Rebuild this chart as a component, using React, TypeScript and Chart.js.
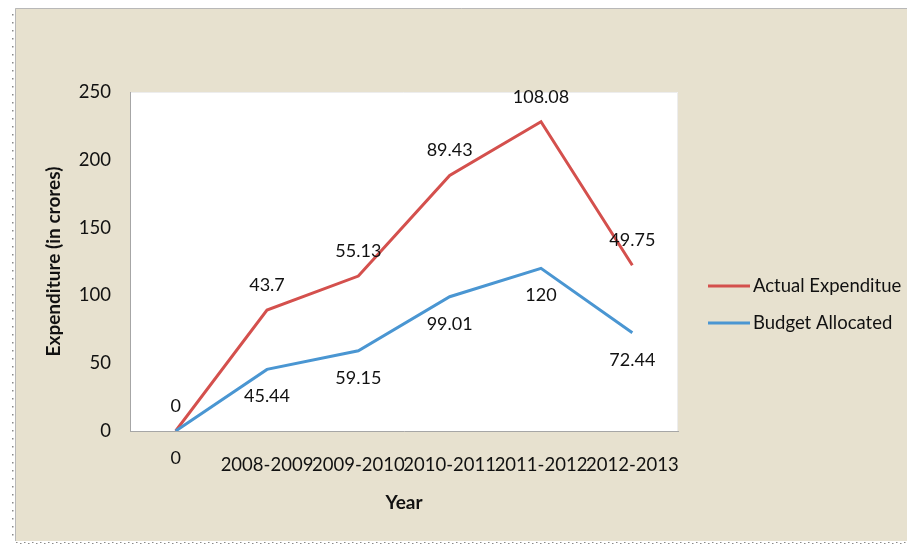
import React, { useEffect, useRef } from "react";
import { Chart, registerables } from "chart.js";

Chart.register(...registerables);

const categories = ["", "2008-2009", "2009-2010", "2010-2011", "2011-2012", "2012-2013"];
const actualExpenditure = [0, 43.7, 55.13, 89.43, 108.08, 49.75];
const budgetAllocated = [0, 45.44, 59.15, 99.01, 120, 72.44];
const yMin = 0;
const yMax = 250;
const yStep = 50;
const seriesNames = ["Actual Expenditue", "Budget Allocated"];
const seriesColors = ["#D4504D", "#4A96D2"];
const yTitle = "Expenditure (in crores)";
const xTitle = "Year";

const FONT = "Lato, 'Open Sans', sans-serif";

const backgroundPlugin = {
  id: "bgFrame",
  beforeDraw(chart: any) {
    const ctx = chart.ctx;
    ctx.save();
    ctx.fillStyle = "#ffffff";
    ctx.fillRect(0, 0, chart.width, chart.height);
    ctx.fillStyle = "#E7E1CF";
    ctx.fillRect(15, 8, chart.width - 15, 533);
    ctx.strokeStyle = "#B8B8B8";
    ctx.lineWidth = 1;
    ctx.beginPath();
    ctx.moveTo(15.5, 541);
    ctx.lineTo(15.5, 8.5);
    ctx.lineTo(chart.width, 8.5);
    ctx.stroke();
    // dotted frame edges
    ctx.fillStyle = "#8A8A8A";
    for (let y = 14; y < 541; y += 8) ctx.fillRect(12, y, 1.5, 1.5);
    for (let x = 16; x < chart.width; x += 4) ctx.fillRect(x, 542 + ((x / 4) % 2), 1.5, 1);
    // plot area white
    const a = chart.chartArea;
    ctx.fillStyle = "#ffffff";
    ctx.fillRect(a.left, a.top, a.right - a.left, a.bottom - a.top);
    ctx.strokeStyle = "#EDEDED";
    ctx.beginPath();
    ctx.moveTo(a.left, a.top + 0.5);
    ctx.lineTo(a.right - 0.5, a.top + 0.5);
    ctx.lineTo(a.right - 0.5, a.bottom);
    ctx.stroke();
    ctx.restore();
  },
};

const labelsLegendPlugin = {
  id: "labelsLegend",
  afterDatasetsDraw(chart: any) {
    const ctx = chart.ctx;
    ctx.save();
    ctx.font = `18px ${FONT}`;
    ctx.fillStyle = "#111111";
    ctx.textAlign = "center";
    ctx.textBaseline = "middle";
    chart.data.datasets.forEach((ds: any, i: number) => {
      const meta = chart.getDatasetMeta(i);
      const above = ds.label === seriesNames[0];
      meta.data.forEach((pt: any, j: number) => {
        const v = ds.data[j];
        ctx.fillText(String(v), pt.x, above ? pt.y - 25 : pt.y + 27);
      });
    });
    // legend
    const items = [
      { name: seriesNames[0], color: seriesColors[0], y: 286 },
      { name: seriesNames[1], color: seriesColors[1], y: 323 },
    ];
    ctx.font = `18.5px ${FONT}`;
    items.forEach((it) => {
      ctx.strokeStyle = it.color;
      ctx.lineWidth = 3;
      ctx.beginPath();
      ctx.moveTo(708, it.y);
      ctx.lineTo(750, it.y);
      ctx.stroke();
      ctx.textAlign = "left";
      ctx.fillStyle = "#111111";
      ctx.fillText(it.name, 753, it.y);
    });
    ctx.restore();
  },
};

export default function App() {
  const ref = useRef<HTMLCanvasElement | null>(null);
  useEffect(() => {
    if (!ref.current) return;
    const chart = new Chart(ref.current, {
      type: "line",
      data: {
        labels: categories,
        datasets: [
          {
            label: seriesNames[1],
            data: budgetAllocated,
            borderColor: seriesColors[1],
            backgroundColor: seriesColors[1],
            borderWidth: 3,
            pointRadius: 0,
            tension: 0,
            fill: false,
          },
          {
            label: seriesNames[0],
            data: actualExpenditure,
            borderColor: seriesColors[0],
            backgroundColor: seriesColors[0],
            borderWidth: 3,
            pointRadius: 0,
            tension: 0,
            fill: false,
          },
        ],
      },
      options: {
        animation: false,
        responsive: false,
        devicePixelRatio: 1,
        layout: { padding: { top: 92, right: 229, left: 0, bottom: 0 } },
        plugins: {
          legend: { display: false },
          tooltip: { enabled: false },
        },
        scales: {
          x: {
            offset: true,
            grid: { display: false, drawTicks: false },
            border: { display: true, color: "#A6A6A6", width: 1 },
            ticks: {
              padding: 23,
              color: "#111111",
              font: { family: FONT, size: 18.5 },
              maxRotation: 0,
              autoSkip: false,
            },
            title: {
              display: true,
              text: xTitle,
              color: "#111111",
              font: { family: FONT, size: 19, weight: "bold" },
              padding: { top: 0, bottom: 31 },
            },
            afterFit(scale: any) {
              scale.height = 114;
            },
          },
          y: {
            stacked: true,
            min: yMin,
            max: yMax,
            grid: { display: false, drawTicks: false },
            border: { display: true, color: "#A6A6A6", width: 1 },
            ticks: {
              stepSize: yStep,
              padding: 19,
              color: "#111111",
              font: { family: FONT, size: 18.5 },
            },
            title: {
              display: true,
              text: yTitle,
              color: "#111111",
              font: { family: FONT, size: 19, weight: "bold" },
              padding: { top: 42, bottom: 0 },
            },
            afterFit(scale: any) {
              scale.width = 130;
            },
          },
        },
      },
      plugins: [backgroundPlugin, labelsLegendPlugin],
    });
    return () => chart.destroy();
  }, []);
  return (
    <div style={{ position: "fixed", left: 0, top: 0, width: 907, height: 545 }}>
      <canvas ref={ref} width={907} height={545} style={{ width: 907, height: 545, display: "block" }} />
    </div>
  );
}
